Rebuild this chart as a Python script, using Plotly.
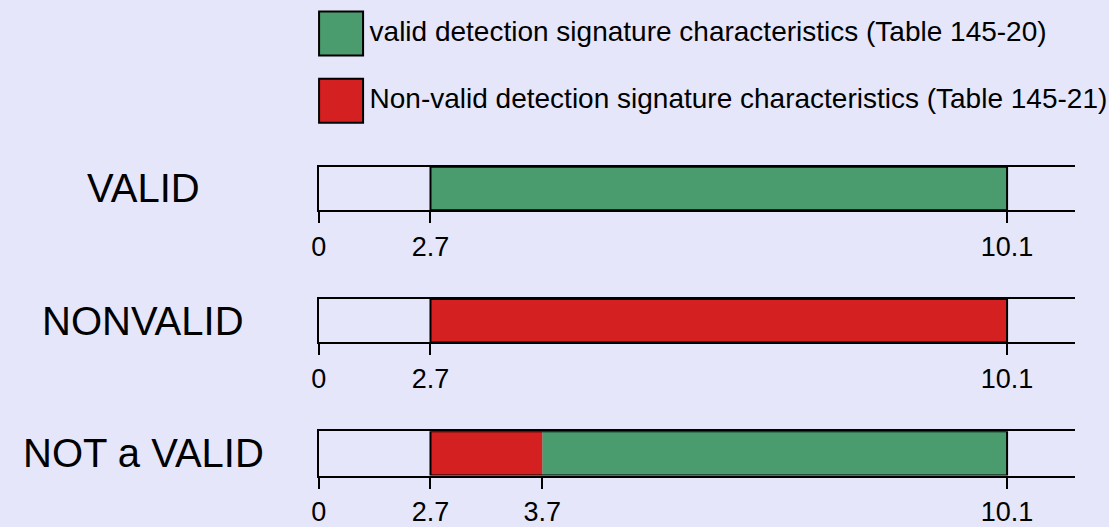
import plotly.graph_objects as go

# ---- data ----
rows = ["VALID", "NONVALID", "NOT a VALID"]
tick_values = [0, 2.7, 3.7, 10.1]
tick_labels = ["0", "2.7", "3.7", "10.1"]
# schematic (non-linear) placement of each tick value along the drawn axis
tick_pos = [0.0, 1.0, 2.0, 6.16]
axis_end = 6.77

valid_start = [2.7, None, 3.7]
valid_end = [10.1, None, 10.1]
nonvalid_start = [None, 2.7, 2.7]
nonvalid_end = [None, 10.1, 3.7]
region_start = [2.7, 2.7, 2.7]
region_end = [10.1, 10.1, 10.1]
row_ticks = [[0, 2.7, 10.1], [0, 2.7, 10.1], [0, 2.7, 3.7, 10.1]]

legend_labels = [
    "valid detection signature characteristics (Table 145-20)",
    "Non-valid detection signature characteristics (Table 145-21)",
]

GREEN = "#4A9B6E"
RED = "#D42020"
BG = "#E6E6FA"
FONT = "Liberation Sans, Arial, Helvetica, sans-serif"


def pos(v):
    return tick_pos[tick_values.index(v)]


W, H = 1109, 527
# row box pixel extents (top, bottom)
row_px = [(169, 213), (303, 347), (437, 482)]
x_dom = [313 / W, 1075 / W]

fig = go.Figure()

for i, name in enumerate(rows):
    suffix = "" if i == 0 else str(i + 1)
    xa, ya = "x" + suffix, "y" + suffix
    if valid_start[i] is not None:
        fig.add_trace(go.Bar(
            y=[0], x=[pos(valid_end[i]) - pos(valid_start[i])], base=[pos(valid_start[i])],
            orientation="h", width=1, marker=dict(color=GREEN, line=dict(width=0)),
            xaxis=xa, yaxis=ya, showlegend=False, hoverinfo="skip"))
    if nonvalid_start[i] is not None:
        fig.add_trace(go.Bar(
            y=[0], x=[pos(nonvalid_end[i]) - pos(nonvalid_start[i])], base=[pos(nonvalid_start[i])],
            orientation="h", width=1, marker=dict(color=RED, line=dict(width=0)),
            xaxis=xa, yaxis=ya, showlegend=False, hoverinfo="skip"))
    # outline of detection region
    fig.add_trace(go.Bar(
        y=[0], x=[pos(region_end[i]) - pos(region_start[i])], base=[pos(region_start[i])],
        orientation="h", width=1, marker=dict(color="rgba(0,0,0,0)", line=dict(width=2, color="black")),
        xaxis=xa, yaxis=ya, showlegend=False, hoverinfo="skip"))

    top, bot = row_px[i]
    ydom = [1 - bot / H, 1 - top / H]
    fig.update_layout(**{
        ("xaxis" + suffix): dict(
            domain=x_dom, anchor=ya, range=[0, axis_end],
            showline=True, linecolor="black", linewidth=2, mirror=True,
            ticks="outside", ticklen=11, tickwidth=2, tickcolor="black",
            tickvals=[pos(v) for v in row_ticks[i]],
            ticktext=[tick_labels[tick_values.index(v)] for v in row_ticks[i]],
            tickfont=dict(size=27, color="black", family=FONT),
            showgrid=False, zeroline=False, fixedrange=True),
        ("yaxis" + suffix): dict(
            domain=ydom, anchor=xa, range=[-0.5, 0.5],
            showline=True, linecolor="black", linewidth=2,
            showticklabels=False, ticks="", showgrid=False, zeroline=False, fixedrange=True),
    })
    fig.add_annotation(
        x=136 / W, y=1 - (top + bot) / 2 / H, xref="paper", yref="paper",
        text=name, showarrow=False, xanchor="center", yanchor="middle",
        font=dict(size=40, color="black", family=FONT))

# legend drawn as large swatches on an overlay axis
fig.add_trace(go.Scatter(
    x=[0, 0], y=[1, 0], mode="markers+text",
    marker=dict(symbol="square", size=44, color=[GREEN, RED], line=dict(width=2, color="black")),
    text=legend_labels, textposition="middle right",
    textfont=dict(size=28, color="black", family=FONT),
    xaxis="x4", yaxis="y4", showlegend=False, hoverinfo="skip", cliponaxis=False))
fig.update_layout(
    xaxis4=dict(domain=[333 / W, 338 / W], anchor="y4", range=[-0.5, 0.5], visible=False, fixedrange=True),
    yaxis4=dict(domain=[1 - 102 / H, 1 - 34 / H], anchor="x4", range=[0, 1], visible=False, fixedrange=True),
)

fig.update_layout(
    width=W, height=H, margin=dict(l=0, r=0, t=0, b=0),
    paper_bgcolor=BG, plot_bgcolor=BG, barmode="overlay",
    font=dict(family=FONT, color="black"),
)

fig.write_html("out.html", config={"displayModeBar": False},
               post_script="document.body.style.margin='0';")
